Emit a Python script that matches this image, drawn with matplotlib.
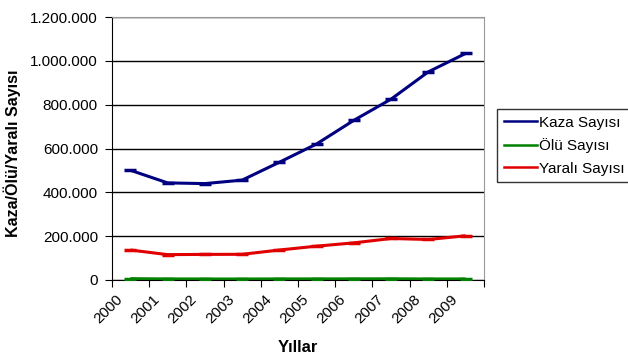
import numpy as np
import matplotlib
matplotlib.use('Agg')
import matplotlib.pyplot as plt
from matplotlib.ticker import FuncFormatter, FixedLocator
import matplotlib.transforms as mtransforms

## Data
years = ['2000', '2001', '2002', '2003', '2004', '2005', '2006', '2007', '2008', '2009']
kaza = [500664, 442960, 439777, 455637, 537352, 620789, 728755, 825561, 950120, 1034073]
olu = [5566, 4386, 4093, 3946, 4427, 4505, 4633, 5007, 4236, 4324]
yarali = [136407, 115308, 116412, 116804, 136437, 154086, 169080, 189057, 184468, 201380]

series = [('Kaza Sayısı', kaza, '#000080'),
          ('Ölü Sayısı', olu, '#008000'),
          ('Yaralı Sayısı', yarali, '#e00000')]

plt.rcParams['font.family'] = ['Liberation Sans', 'DejaVu Sans']

fig = plt.figure(figsize=(6.28, 3.57), dpi=100)
ax = fig.add_axes([0.178, 0.216, 0.593, 0.736])

x = np.arange(len(years))
handles = []
for name, vals, col in series:
    ax.plot(x, vals, color=col, lw=2.2, marker='_', ms=9, mew=2.5,
            solid_capstyle='butt', zorder=3)
    h, = ax.plot([], [], color=col, lw=1.8, label=name)
    handles.append(h)

## Axes styling
ax.set_ylim(0, 1200000)
ax.set_xlim(-0.5, len(years) - 0.5)
ax.set_yticks(np.arange(0, 1200001, 200000))
ax.yaxis.set_major_formatter(FuncFormatter(lambda v, p: f'{int(v):,}'.replace(',', '.')))
ax.grid(axis='y', color='black', lw=1)
ax.set_axisbelow(True)

ax.xaxis.set_major_locator(FixedLocator(np.arange(-0.5, len(years), 1.0)))
ax.xaxis.set_major_formatter(FuncFormatter(lambda v, p: ''))
ax.xaxis.set_minor_locator(FixedLocator(x))
ax.set_xticklabels(years, minor=True, rotation=45, ha='right', fontsize=11)
ax.tick_params(axis='x', which='minor', length=0, pad=9)
ax.tick_params(axis='x', which='major', length=5, direction='out', color='black')
ax.tick_params(axis='y', length=5, direction='out', labelsize=11, pad=5)
offset = mtransforms.ScaledTranslation(-5 / 100, 0, fig.dpi_scale_trans)
for lbl in ax.get_xticklabels(minor=True):
    lbl.set_transform(lbl.get_transform() + offset)

for side in ['top', 'right']:
    ax.spines[side].set_color('#999999')
for side in ['left', 'bottom']:
    ax.spines[side].set_color('black')

ax.set_xlabel('Yıllar', fontsize=12, fontweight='bold')
ax.xaxis.set_label_coords(0.5, -0.228)
ax.set_ylabel('Kaza/Ölü/Yaralı Sayısı', fontsize=11.5, fontweight='bold')
ax.yaxis.set_label_coords(-0.245, 0.483)

leg = fig.legend(handles=handles, loc='upper left', bbox_to_anchor=(0.791, 0.695),
                 borderaxespad=0, fontsize=11, frameon=True, fancybox=False,
                 handlelength=2.2, handletextpad=0.1, borderpad=0.45,
                 labelspacing=0.55)
leg.get_frame().set_edgecolor('black')
leg.get_frame().set_linewidth(1)

fig.savefig('out.png', dpi=100)
